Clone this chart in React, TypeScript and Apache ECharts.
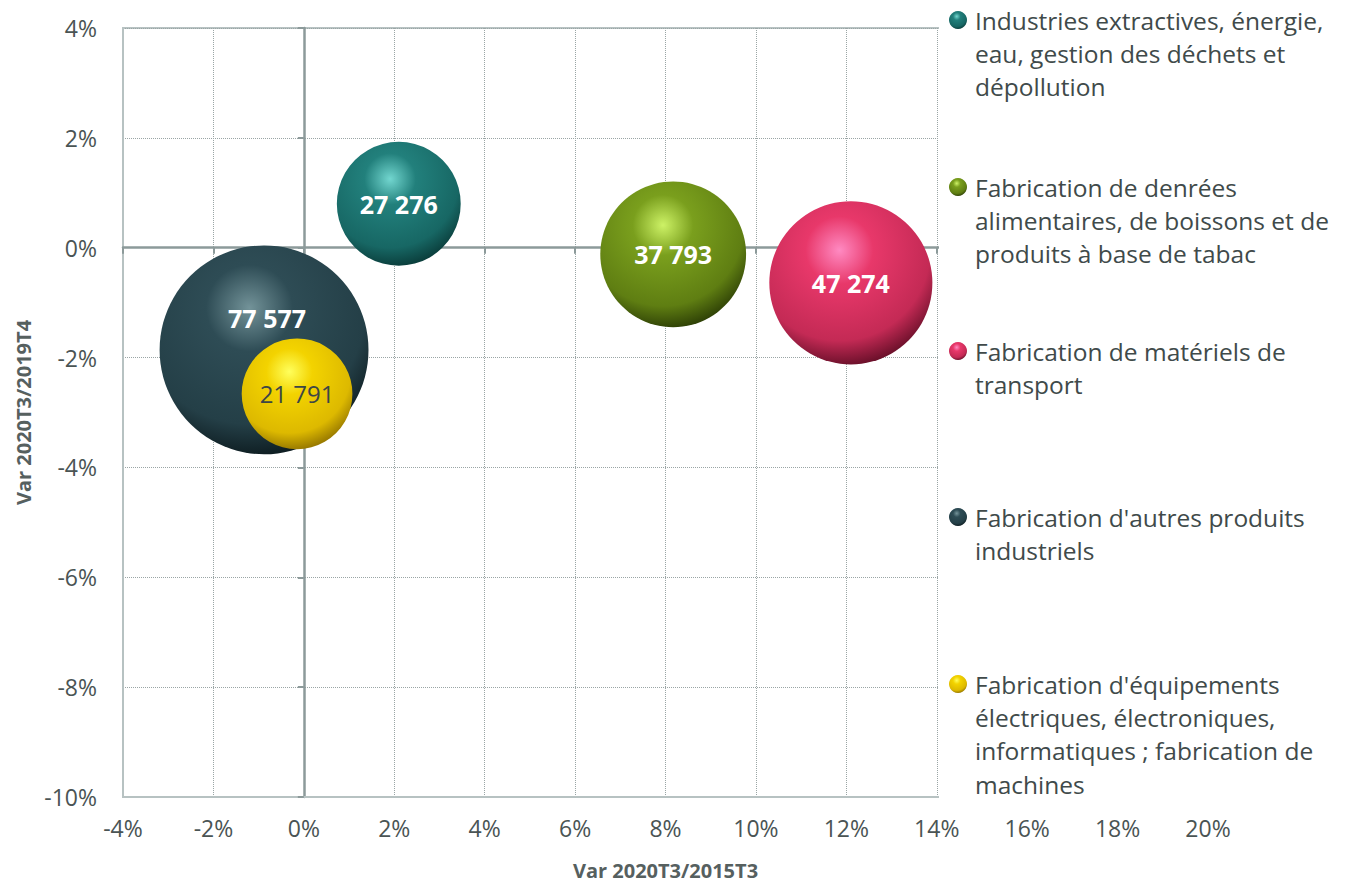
import React, { useEffect, useRef } from 'react';
import * as echarts from 'echarts';

const seriesNames = [
  "Industries extractives, énergie, eau, gestion des déchets et dépollution",
  "Fabrication de denrées alimentaires, de boissons et de produits à base de tabac",
  "Fabrication de matériels de transport",
  "Fabrication d'autres produits industriels",
  "Fabrication d'équipements électriques, électroniques, informatiques ; fabrication de machines",
];
const legendLabels = [
  "Industries extractives, énergie,\neau, gestion des déchets et\ndépollution",
  "Fabrication de denrées\nalimentaires, de boissons et de\nproduits à base de tabac",
  "Fabrication de matériels de\ntransport",
  "Fabrication d'autres produits\nindustriels",
  "Fabrication d'équipements\nélectriques, électroniques,\ninformatiques ; fabrication de\nmachines",
];
// Var 2020T3/2015T3 (%)
const xValues = [2.1, 8.17, 12.1, -0.88, -0.15];
// Var 2020T3/2019T4 (%)
const yValues = [0.8, -0.12, -0.64, -1.86, -2.66];
// Effectifs
const sizes = [27276, 37793, 47274, 77577, 21791];

const xAxisTitle = 'Var 2020T3/2015T3';
const yAxisTitle = 'Var 2020T3/2019T4';

const palette = [
  { hi: '#72d6cf', mid: '#22807c', dk: '#176764', lo: '#083634' },
  { hi: '#cdf266', mid: '#7a9f1d', dk: '#5f7e12', lo: '#263604' },
  { hi: '#ff8ac2', mid: '#e8386a', dk: '#c42a55', lo: '#5a0b22' },
  { hi: '#7393999', mid: '#2e4c55', dk: '#243f47', lo: '#0a171b' },
  { hi: '#ffff5c', mid: '#f3d300', dk: '#ddb900', lo: '#8a6c00' },
];
palette[3].hi = '#739399';
const legendIconY = [20, 187, 351, 517, 684];
const labelStyles = [
  { color: '#ffffff', fontWeight: 'bold', fontSize: 25, offset: [0, 0] },
  { color: '#ffffff', fontWeight: 'bold', fontSize: 25, offset: [0, 0] },
  { color: '#ffffff', fontWeight: 'bold', fontSize: 25, offset: [0, 0] },
  { color: '#ffffff', fontWeight: 'bold', fontSize: 25, offset: [3, -32] },
  { color: '#3c4646', fontWeight: 'normal', fontSize: 24, offset: [0, 0] },
];

const FONT = '"Open Sans", Lato, sans-serif';
const fmtThousands = (v: number) => String(v).replace(/\B(?=(\d{3})+(?!\d))/g, ' ');

export default function App() {
  const ref = useRef<HTMLDivElement>(null);
  useEffect(() => {
    if (!ref.current) return;
    const chart = echarts.init(ref.current, undefined, { renderer: 'svg' });
    const LH = 33.4;
    const series = seriesNames.map((name, i) => ({
      name,
      type: 'scatter',
      data: [[xValues[i], yValues[i], sizes[i]]],
      symbolSize: (val: number[]) => 0.75 * Math.sqrt(val[2]),
      itemStyle: {
        opacity: 1,
        color: {
          type: 'radial', x: 0.43, y: 0.3, r: 0.74,
          colorStops: [
            { offset: 0, color: palette[i].hi },
            { offset: 0.28, color: palette[i].mid },
            { offset: 0.75, color: palette[i].dk },
            { offset: 1, color: palette[i].lo },
          ],
        },
      },
      label: {
        show: true,
        position: 'inside',
        offset: labelStyles[i].offset,
        formatter: (p: any) => fmtThousands(p.value[2]),
        color: labelStyles[i].color,
        fontWeight: labelStyles[i].fontWeight,
        fontSize: labelStyles[i].fontSize,
        fontFamily: FONT,
      },
      emphasis: { disabled: true },
    }));
    const legends = seriesNames.map((name, i) => {
      const n = legendLabels[i].split('\n').length;
      return {
        data: [name],
        orient: 'vertical',
        left: 949,
        top: legendIconY[i] - ((2 * n - 1) * LH) / 2,
        padding: 0,
        itemWidth: 18,
        itemHeight: 18,
        icon: 'circle',
        z: 100,
        selectedMode: false,
        formatter: () => '\n'.repeat(n - 1) + legendLabels[i],
        textStyle: {
          fontFamily: FONT,
          fontSize: 24.5,
          color: '#404a4a',
          lineHeight: LH,
          padding: [0, 0, 0, 3],
        },
      };
    });
    chart.setOption({
      animation: false,
      backgroundColor: '#ffffff',
      grid: {
        left: 123, top: 28, right: 155, bottom: 85,
        show: true, borderColor: '#b7c2c2', borderWidth: 2,
      },
      legend: legends,
      graphic: [
        {
          type: 'rect', z: 50,
          shape: { x: 939, y: 0, width: 424, height: 810 },
          style: { fill: '#ffffff' },
        },
      ],
      xAxis: [
        {
          type: 'value', min: -4, max: 20, interval: 2,
          name: xAxisTitle, nameLocation: 'middle', nameGap: 63,
          nameTextStyle: { fontFamily: FONT, fontSize: 20, fontWeight: 'bold', color: '#56605f' },
          axisLine: { show: true, onZero: false, lineStyle: { color: '#b7c2c2', width: 2 } },
          axisTick: { show: false },
          axisLabel: {
            margin: 19, fontFamily: FONT, fontSize: 23, color: '#4a5454',
            formatter: (v: number) => v + '%',
          },
          splitLine: { show: true, lineStyle: { color: '#9aa5a5', type: 'dotted', width: 1 } },
        },
        {
          type: 'value', min: -4, max: 20, interval: 2, position: 'bottom',
          axisLine: { show: true, onZero: true, lineStyle: { color: '#8c9a9a', width: 2.5 } },
          axisTick: { show: true, inside: false, length: 6, lineStyle: { color: '#8c9a9a', width: 2 } },
          axisLabel: { show: false },
          splitLine: { show: false },
        },
      ],
      yAxis: [
        {
          type: 'value', min: -10, max: 4, interval: 2,
          name: yAxisTitle, nameLocation: 'middle', nameGap: 81, nameRotate: 90,
          nameTextStyle: { fontFamily: FONT, fontSize: 20, fontWeight: 'bold', color: '#56605f' },
          axisLine: { show: true, onZero: false, lineStyle: { color: '#b7c2c2', width: 2 } },
          axisTick: { show: false },
          axisLabel: {
            margin: 26, fontFamily: FONT, fontSize: 23, color: '#4a5454',
            formatter: (v: number) => v + '%',
          },
          splitLine: { show: true, lineStyle: { color: '#9aa5a5', type: 'dotted', width: 1 } },
        },
        {
          type: 'value', min: -10, max: 4, interval: 2, position: 'left',
          axisLine: { show: true, onZero: true, lineStyle: { color: '#8c9a9a', width: 2.5 } },
          axisTick: { show: true, inside: false, length: 6, lineStyle: { color: '#8c9a9a', width: 2 } },
          axisLabel: { show: false },
          splitLine: { show: false },
        },
      ],
      series,
    });
    return () => chart.dispose();
  }, []);
  return (
    <div
      ref={ref}
      style={{ position: 'fixed', left: 0, top: 0, width: 1363, height: 885 }}
    />
  );
}
